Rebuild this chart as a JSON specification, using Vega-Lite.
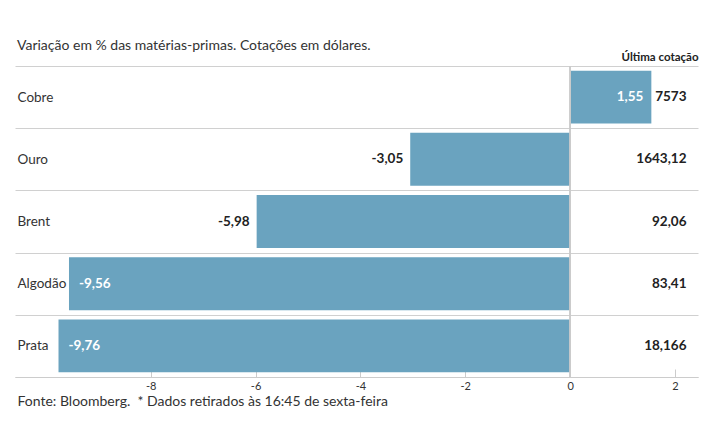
{
  "$schema": "https://vega.github.io/schema/vega-lite/v6.json",
  "width": 683,
  "height": 311,
  "autosize": "none",
  "padding": {"left": 15, "top": 66, "right": 17, "bottom": 68},
  "background": "white",
  "config": {"font": "Lato", "view": {"stroke": null}},
  "title": {"text": "Variação em % das matérias-primas. Cotações em dólares.", "anchor": "start", "frame": "group", "fontSize": 14, "fontWeight": "normal", "color": "#333", "offset": -2, "dx": 2},
  "data": {"values": [
    {"name": "Cobre", "v": 1.55, "lab": "1,55", "cot": "7573"},
    {"name": "Ouro", "v": -3.05, "lab": "-3,05", "cot": "1643,12"},
    {"name": "Brent", "v": -5.98, "lab": "-5,98", "cot": "92,06"},
    {"name": "Algodão", "v": -9.56, "lab": "-9,56", "cot": "83,41"},
    {"name": "Prata", "v": -9.76, "lab": "-9,76", "cot": "18,166"}
  ]},
  "encoding": {
    "y": {"field": "name", "type": "nominal", "sort": null,
      "scale": {"paddingInner": 0, "paddingOuter": 0},
      "axis": {"title": null, "grid": true, "tickBand": "extent", "gridColor": "#d0d0d0", "ticks": false, "domain": false, "labelAlign": "left", "labelPadding": -2, "labelFontSize": 13.5, "labelColor": "#333"}}
  },
  "layer": [
    {
      "mark": {"type": "bar", "color": "#6aa3bf", "height": {"band": 0.85}},
      "encoding": {
        "x": {"field": "v", "type": "quantitative",
          "scale": {"domain": [-10.59, 2.44], "nice": false, "zero": false},
          "axis": {"values": [-8, -6, -4, -2, 0, 2], "labelExpr": "toString(datum.value)", "grid": false, "domainColor": "#cccccc", "tickColor": "#cccccc", "tickSize": -8, "labelPadding": 11, "labelFontSize": 11, "labelColor": "#333",
            "title": "Fonte: Bloomberg.\u00a0 * Dados retirados às 16:45 de sexta-feira", "titleAnchor": "start", "titleAlign": "left", "titleX": 2, "titleFontWeight": "normal", "titleFontSize": 14, "titleColor": "#333", "titlePadding": 3}}
      }
    },
    {
      "mark": {"type": "rule", "color": "#cccccc"},
      "encoding": {"x": {"datum": 0, "axis": null}, "y": null}
    },
    {
      "transform": [{"filter": "datum.v > 0"}],
      "mark": {"type": "text", "align": "right", "dx": -8, "fontWeight": "bold", "fontSize": 13.5, "color": "white"},
      "encoding": {"x": {"field": "v", "type": "quantitative", "axis": null}, "text": {"field": "lab"}}
    },
    {
      "transform": [{"filter": "datum.v < 0 && datum.v > -9"}],
      "mark": {"type": "text", "align": "right", "dx": -7, "fontWeight": "bold", "fontSize": 13.5, "color": "#222"},
      "encoding": {"x": {"field": "v", "type": "quantitative", "axis": null}, "text": {"field": "lab"}}
    },
    {
      "transform": [{"filter": "datum.v <= -9"}],
      "mark": {"type": "text", "align": "left", "dx": 10, "fontWeight": "bold", "fontSize": 13.5, "color": "white"},
      "encoding": {"x": {"field": "v", "type": "quantitative", "axis": null}, "text": {"field": "lab"}}
    },
    {
      "mark": {"type": "text", "align": "right", "fontWeight": "bold", "fontSize": 13.5, "color": "#222"},
      "encoding": {
        "x": {"datum": 2.22, "type": "quantitative",
          "axis": {"orient": "top", "labels": false, "ticks": false, "domain": false, "grid": false, "title": "Última cotação", "titleAnchor": "end", "titleAlign": "right", "titleFontWeight": "bold", "titleFontSize": 11.5, "titleColor": "#222", "titlePadding": 4}},
        "text": {"field": "cot"}
      }
    }
  ],
  "resolve": {"axis": {"x": "independent"}}
}
